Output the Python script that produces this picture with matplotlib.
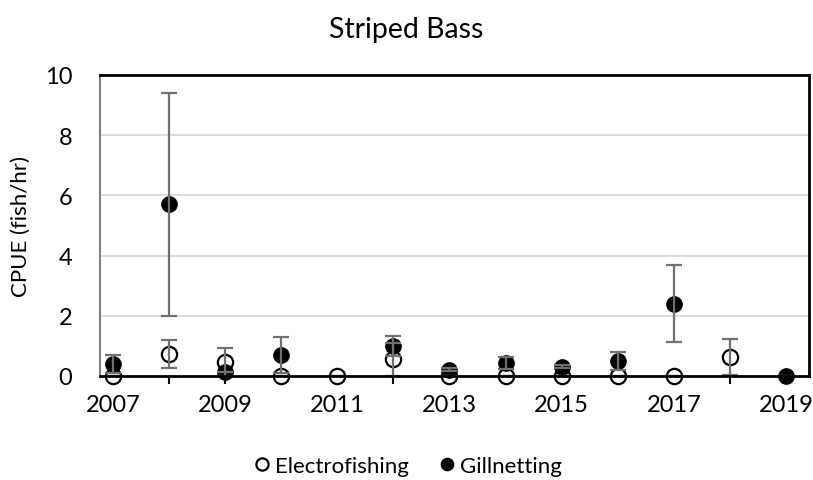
import matplotlib.pyplot as plt
import numpy as np

# CPUE data
years_e = [2007, 2008, 2009, 2010, 2011, 2012, 2013, 2014, 2015, 2016, 2017, 2018]
electro = [0.0, 0.73, 0.47, 0.0, 0.0, 0.55, 0.0, 0.0, 0.0, 0.0, 0.0, 0.62]
electro_err = [0.0, 0.48, 0.47, 0.0, 0.0, 0.55, 0.0, 0.0, 0.0, 0.0, 0.0, 0.6]

years_g = [2007, 2008, 2009, 2010, 2012, 2013, 2014, 2015, 2016, 2017, 2019]
gill = [0.4, 5.7, 0.12, 0.7, 1.0, 0.2, 0.42, 0.3, 0.5, 2.4, 0.0]
gill_err = [0.3, 3.7, 0.0, 0.6, 0.33, 0.05, 0.2, 0.05, 0.3, 1.28, 0.0]

xticks = [2007, 2009, 2011, 2013, 2015, 2017, 2019]
yticks = [0, 2, 4, 6, 8, 10]

plt.rcParams['font.family'] = ['Lato', 'DejaVu Sans']

fig = plt.figure(figsize=(8.13, 4.81), dpi=100)
ax = fig.add_axes([100/813, 1 - 377/481, 709/813, 301/481])

# gridlines by hand so the axis ticks can sit above the markers
for yv in yticks[1:]:
    ax.axhline(yv, color='#d9d9d9', lw=1.3, zorder=0.5)

# markers
ax.plot(years_e, electro, 'o', mfc='white', mec='black', mew=1.6, ms=11,
        label='Electrofishing', zorder=2.0, clip_on=False)
ax.plot(years_g, gill, 'o', mfc='black', mec='black', ms=11,
        label='Gillnetting', zorder=2.05, clip_on=False)

# error bars on top, like excel
ebk = dict(fmt='none', ecolor='#707070', elinewidth=1.6, capsize=6, capthick=1.6,
           zorder=2.2, clip_on=False)
ax.errorbar(years_e, electro, yerr=electro_err, **ebk)
ax.errorbar(years_g, gill, yerr=gill_err, **ebk)

ax.set_xlim(2006.77, 2019.41)
ax.set_ylim(0, 10)
ax.set_yticks(yticks)
ax.set_xticks(xticks)
ax.set_xticks(range(2007, 2020), minor=True)

ax.tick_params(axis='y', length=0, labelsize=17, pad=20)
ax.tick_params(axis='x', which='both', direction='out', length=6, width=1.5,
               color='black', labelsize=17, pad=7)
ax.tick_params(axis='x', which='minor', labelbottom=False)

ax.spines['left'].set_color('#808080')
ax.spines['left'].set_linewidth(1.5)
for s in ['top', 'right', 'bottom']:
    ax.spines[s].set_color('black')
    ax.spines[s].set_linewidth(2)

ax.set_ylabel('CPUE (fish/hr)', fontsize=16, labelpad=10)
fig.text(0.5, 1 - 30/481, 'Striped Bass', ha='center', va='center', fontsize=20.5)

handles, labels = ax.get_legend_handles_labels()
fig.legend(handles, labels, loc='center', bbox_to_anchor=(0.5, 1 - 467/481), ncol=2,
           frameon=False, fontsize=16, handletextpad=0.1, columnspacing=1.2,
           handlelength=1.0, markerscale=0.8)

fig.savefig('out.png', dpi=100)
